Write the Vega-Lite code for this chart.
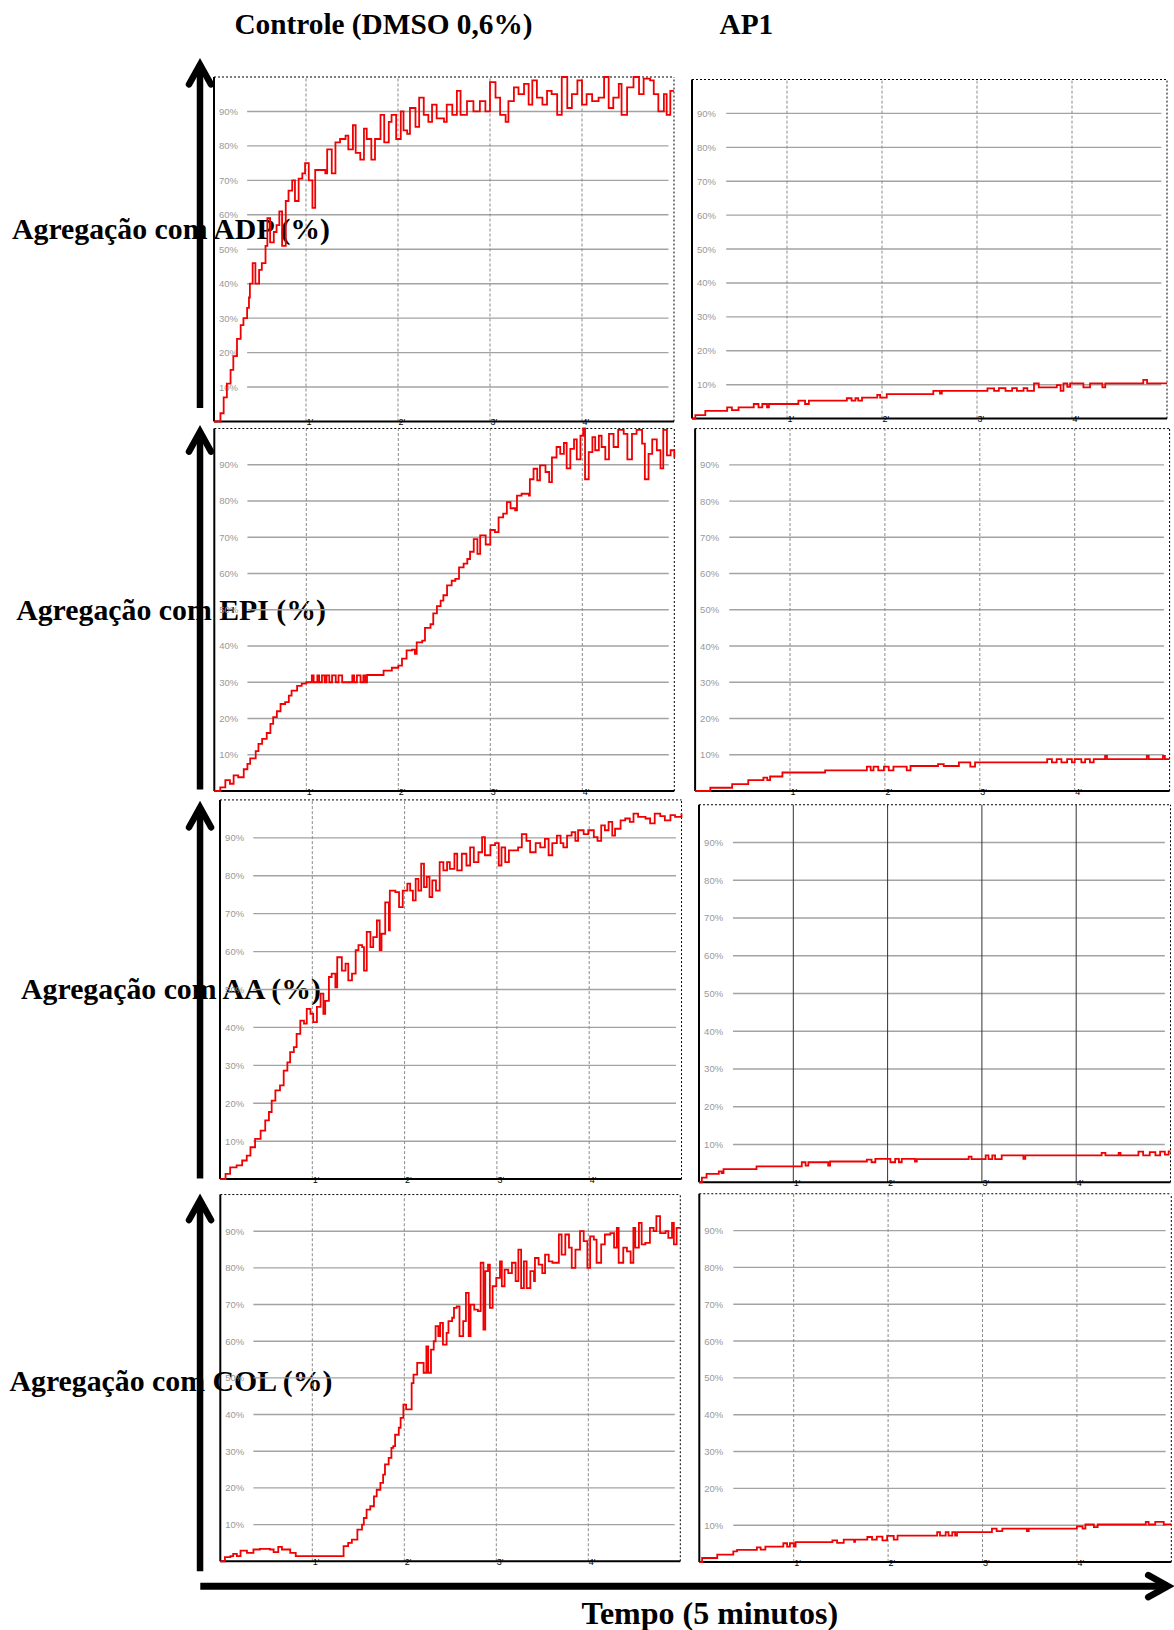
{
"$schema": "https://vega.github.io/schema/vega-lite/v6.json",
"padding": 0,
"background": "white",
"columns": 3,
"align": "none",
"bounds": "flush",
"spacing": 0,
"datasets": {
"pcts": [{"p":10},{"p":20},{"p":30},{"p":40},{"p":50},{"p":60},{"p":70},{"p":80},{"p":90}],
"mins": [{"m":1},{"m":2},{"m":3},{"m":4}],
"adp_c": [{"t":0,"v":0},{"t":0.07,"v":2.4},{"t":0.105,"v":7},{"t":0.14,"v":11},{"t":0.18,"v":15},{"t":0.21,"v":19},{"t":0.25,"v":24},{"t":0.29,"v":28},{"t":0.32,"v":30},{"t":0.36,"v":33},{"t":0.38,"v":36},{"t":0.39,"v":40},{"t":0.42,"v":46},{"t":0.45,"v":40},{"t":0.49,"v":44},{"t":0.52,"v":46},{"t":0.56,"v":51},{"t":0.58,"v":59},{"t":0.61,"v":52},{"t":0.65,"v":55},{"t":0.68,"v":57},{"t":0.71,"v":61},{"t":0.74,"v":51},{"t":0.78,"v":64},{"t":0.81,"v":67},{"t":0.85,"v":70},{"t":0.88,"v":64},{"t":0.92,"v":70.5},{"t":0.96,"v":72},{"t":0.99,"v":75},{"t":1.03,"v":70},{"t":1.07,"v":62},{"t":1.1,"v":73},{"t":1.16,"v":73},{"t":1.21,"v":72},{"t":1.23,"v":79},{"t":1.28,"v":72},{"t":1.32,"v":81},{"t":1.37,"v":82},{"t":1.43,"v":83},{"t":1.46,"v":79},{"t":1.51,"v":86},{"t":1.54,"v":78},{"t":1.59,"v":76},{"t":1.63,"v":85},{"t":1.66,"v":82},{"t":1.71,"v":76},{"t":1.75,"v":82},{"t":1.81,"v":89},{"t":1.85,"v":81},{"t":1.9,"v":87},{"t":1.93,"v":89},{"t":1.98,"v":82},{"t":2.03,"v":90},{"t":2.06,"v":84.5},{"t":2.1,"v":83.5},{"t":2.13,"v":91},{"t":2.19,"v":85.5},{"t":2.23,"v":94},{"t":2.28,"v":89},{"t":2.33,"v":87},{"t":2.37,"v":92},{"t":2.42,"v":88},{"t":2.5,"v":87},{"t":2.53,"v":92},{"t":2.59,"v":89},{"t":2.64,"v":96},{"t":2.68,"v":89},{"t":2.75,"v":93},{"t":2.82,"v":90},{"t":2.89,"v":93},{"t":2.95,"v":90},{"t":3.0,"v":98.5},{"t":3.06,"v":94},{"t":3.11,"v":89},{"t":3.17,"v":87},{"t":3.2,"v":93},{"t":3.26,"v":97},{"t":3.31,"v":95},{"t":3.37,"v":98},{"t":3.42,"v":92},{"t":3.46,"v":99},{"t":3.51,"v":94},{"t":3.57,"v":92},{"t":3.62,"v":96},{"t":3.67,"v":95},{"t":3.73,"v":89},{"t":3.78,"v":100},{"t":3.84,"v":91},{"t":3.89,"v":95},{"t":3.95,"v":99},{"t":4.0,"v":92},{"t":4.05,"v":95},{"t":4.11,"v":93},{"t":4.18,"v":94},{"t":4.24,"v":100},{"t":4.29,"v":91},{"t":4.34,"v":94},{"t":4.4,"v":98},{"t":4.43,"v":89},{"t":4.49,"v":97},{"t":4.56,"v":100},{"t":4.62,"v":95},{"t":4.67,"v":99.5},{"t":4.74,"v":99},{"t":4.78,"v":95},{"t":4.83,"v":90},{"t":4.89,"v":95},{"t":4.92,"v":89},{"t":4.96,"v":96},{"t":5.0,"v":96}],
"adp_a": [{"t":0,"v":0},{"t":0.035,"v":1},{"t":0.14,"v":2.3},{"t":0.37,"v":3.3},{"t":0.42,"v":2.5},{"t":0.49,"v":3.3},{"t":0.65,"v":4.3},{"t":0.7,"v":3.3},{"t":0.74,"v":4.3},{"t":0.79,"v":3.3},{"t":0.81,"v":4.3},{"t":1.12,"v":5.3},{"t":1.19,"v":4.3},{"t":1.23,"v":5.3},{"t":1.63,"v":6},{"t":1.68,"v":5.3},{"t":1.72,"v":6},{"t":1.75,"v":5.3},{"t":1.79,"v":6.2},{"t":1.95,"v":7},{"t":1.98,"v":6.2},{"t":2.05,"v":7.2},{"t":2.54,"v":8.2},{"t":2.61,"v":7.4},{"t":2.63,"v":8.2},{"t":3.11,"v":8.9},{"t":3.18,"v":8.2},{"t":3.23,"v":9},{"t":3.3,"v":8.2},{"t":3.37,"v":9},{"t":3.42,"v":8.2},{"t":3.49,"v":9},{"t":3.53,"v":8.2},{"t":3.6,"v":10.4},{"t":3.65,"v":9.2},{"t":3.84,"v":9.9},{"t":3.88,"v":8.2},{"t":3.91,"v":10.4},{"t":3.95,"v":9.4},{"t":3.98,"v":10.4},{"t":4.12,"v":9.2},{"t":4.19,"v":10.4},{"t":4.32,"v":9.2},{"t":4.35,"v":10.4},{"t":4.75,"v":11.4},{"t":4.79,"v":10.4},{"t":5.0,"v":10.4}],
"epi_c": [{"t":0,"v":0},{"t":0.065,"v":1},{"t":0.12,"v":3},{"t":0.17,"v":2},{"t":0.21,"v":4.3},{"t":0.26,"v":3.8},{"t":0.32,"v":6},{"t":0.36,"v":7.5},{"t":0.39,"v":9},{"t":0.45,"v":11},{"t":0.48,"v":13},{"t":0.52,"v":14.4},{"t":0.57,"v":16},{"t":0.61,"v":18.5},{"t":0.64,"v":20.4},{"t":0.68,"v":22},{"t":0.72,"v":24},{"t":0.77,"v":24.5},{"t":0.81,"v":26.3},{"t":0.84,"v":27.7},{"t":0.9,"v":29},{"t":0.95,"v":29.6},{"t":1.0,"v":30},{"t":1.06,"v":31.9},{"t":1.08,"v":30},{"t":1.12,"v":31.9},{"t":1.14,"v":30},{"t":1.17,"v":31.9},{"t":1.2,"v":30},{"t":1.22,"v":31.9},{"t":1.25,"v":30},{"t":1.28,"v":31.9},{"t":1.32,"v":30},{"t":1.35,"v":31.9},{"t":1.39,"v":30},{"t":1.5,"v":31.9},{"t":1.52,"v":30},{"t":1.55,"v":31.9},{"t":1.59,"v":30},{"t":1.62,"v":31.9},{"t":1.64,"v":30},{"t":1.66,"v":32},{"t":1.84,"v":33.2},{"t":1.93,"v":34},{"t":2.0,"v":34.6},{"t":2.04,"v":36.5},{"t":2.09,"v":38.8},{"t":2.15,"v":39},{"t":2.18,"v":37.8},{"t":2.2,"v":41},{"t":2.26,"v":41.5},{"t":2.29,"v":45},{"t":2.35,"v":46},{"t":2.38,"v":49},{"t":2.42,"v":51},{"t":2.46,"v":52.5},{"t":2.49,"v":54},{"t":2.53,"v":56.7},{"t":2.58,"v":58},{"t":2.62,"v":58.5},{"t":2.66,"v":61.7},{"t":2.71,"v":62.7},{"t":2.75,"v":64},{"t":2.78,"v":66},{"t":2.82,"v":69.5},{"t":2.86,"v":65.4},{"t":2.89,"v":70.5},{"t":2.95,"v":68},{"t":3.0,"v":72},{"t":3.05,"v":71.4},{"t":3.09,"v":75.5},{"t":3.14,"v":76.5},{"t":3.18,"v":79.7},{"t":3.22,"v":78},{"t":3.27,"v":77.4},{"t":3.29,"v":81.5},{"t":3.34,"v":82},{"t":3.42,"v":81.5},{"t":3.43,"v":86},{"t":3.47,"v":88.9},{"t":3.51,"v":85.7},{"t":3.54,"v":89.8},{"t":3.6,"v":88},{"t":3.64,"v":85.2},{"t":3.67,"v":92},{"t":3.72,"v":94.9},{"t":3.76,"v":93},{"t":3.8,"v":96},{"t":3.83,"v":89},{"t":3.87,"v":94.4},{"t":3.91,"v":97},{"t":3.94,"v":91.5},{"t":3.98,"v":98},{"t":4.01,"v":100},{"t":4.03,"v":86},{"t":4.07,"v":93.5},{"t":4.11,"v":97.6},{"t":4.14,"v":94},{"t":4.18,"v":98},{"t":4.21,"v":94.9},{"t":4.25,"v":91.5},{"t":4.29,"v":98.5},{"t":4.34,"v":94.9},{"t":4.39,"v":99.6},{"t":4.45,"v":98.5},{"t":4.49,"v":91.5},{"t":4.54,"v":98.5},{"t":4.59,"v":99.6},{"t":4.65,"v":95.8},{"t":4.68,"v":86},{"t":4.72,"v":93},{"t":4.76,"v":97},{"t":4.81,"v":94},{"t":4.85,"v":89},{"t":4.88,"v":99.6},{"t":4.92,"v":92.6},{"t":4.96,"v":94},{"t":5.0,"v":92}],
"epi_a": [{"t":0,"v":0},{"t":0.16,"v":0.9},{"t":0.39,"v":1.9},{"t":0.56,"v":3},{"t":0.72,"v":3.7},{"t":0.76,"v":3},{"t":0.79,"v":4},{"t":0.92,"v":5.1},{"t":1.37,"v":5.7},{"t":1.81,"v":6.7},{"t":1.85,"v":5.7},{"t":1.88,"v":6.7},{"t":1.93,"v":5.7},{"t":1.99,"v":6.7},{"t":2.04,"v":5.7},{"t":2.09,"v":6.7},{"t":2.23,"v":5.7},{"t":2.27,"v":6.9},{"t":2.56,"v":7.4},{"t":2.62,"v":6.9},{"t":2.78,"v":7.9},{"t":2.9,"v":6.7},{"t":2.95,"v":7.9},{"t":3.71,"v":8.8},{"t":3.76,"v":7.9},{"t":3.81,"v":8.8},{"t":3.86,"v":7.9},{"t":3.92,"v":8.8},{"t":3.97,"v":7.9},{"t":4.0,"v":8.8},{"t":4.07,"v":7.9},{"t":4.11,"v":8.8},{"t":4.16,"v":7.9},{"t":4.2,"v":8.8},{"t":4.32,"v":9.7},{"t":4.34,"v":8.8},{"t":4.76,"v":9.7},{"t":4.78,"v":8.8},{"t":4.93,"v":9.7},{"t":4.95,"v":8.8},{"t":5.0,"v":8.8}],
"aa_c": [{"t":0,"v":0},{"t":0.06,"v":1.4},{"t":0.11,"v":3.1},{"t":0.18,"v":3.6},{"t":0.24,"v":4.9},{"t":0.29,"v":6.2},{"t":0.33,"v":8.4},{"t":0.38,"v":10.6},{"t":0.44,"v":12.8},{"t":0.49,"v":15.5},{"t":0.53,"v":17.7},{"t":0.56,"v":20.7},{"t":0.6,"v":23.4},{"t":0.65,"v":24.7},{"t":0.69,"v":28.6},{"t":0.73,"v":30.8},{"t":0.76,"v":33.5},{"t":0.8,"v":34.8},{"t":0.83,"v":38.3},{"t":0.87,"v":41.8},{"t":0.91,"v":41},{"t":0.94,"v":44.9},{"t":0.98,"v":43.6},{"t":1.01,"v":41.4},{"t":1.05,"v":45.4},{"t":1.09,"v":48.9},{"t":1.12,"v":43.6},{"t":1.14,"v":47},{"t":1.18,"v":53.3},{"t":1.21,"v":54.2},{"t":1.25,"v":50.6},{"t":1.27,"v":58.5},{"t":1.32,"v":55},{"t":1.36,"v":56.8},{"t":1.39,"v":52.4},{"t":1.43,"v":54.2},{"t":1.47,"v":60.4},{"t":1.5,"v":61.7},{"t":1.54,"v":61.2},{"t":1.56,"v":55},{"t":1.59,"v":65.2},{"t":1.63,"v":61.2},{"t":1.66,"v":63.8},{"t":1.7,"v":68.2},{"t":1.73,"v":60.4},{"t":1.75,"v":64.7},{"t":1.79,"v":73},{"t":1.83,"v":65.6},{"t":1.84,"v":76.1},{"t":1.9,"v":75.7},{"t":1.94,"v":71.7},{"t":1.98,"v":76.1},{"t":2.03,"v":77.9},{"t":2.06,"v":76.1},{"t":2.09,"v":73.5},{"t":2.12,"v":79.2},{"t":2.15,"v":76.1},{"t":2.18,"v":83.2},{"t":2.21,"v":77},{"t":2.24,"v":79.7},{"t":2.27,"v":74.4},{"t":2.3,"v":78.8},{"t":2.34,"v":76.1},{"t":2.38,"v":83.6},{"t":2.42,"v":81.4},{"t":2.46,"v":83.6},{"t":2.49,"v":81.8},{"t":2.54,"v":85.8},{"t":2.57,"v":81.4},{"t":2.62,"v":85.8},{"t":2.67,"v":82.7},{"t":2.71,"v":87.5},{"t":2.75,"v":83.6},{"t":2.8,"v":86.2},{"t":2.84,"v":90.2},{"t":2.87,"v":85.4},{"t":2.93,"v":88.1},{"t":2.98,"v":88.6},{"t":3.02,"v":82.7},{"t":3.05,"v":87.5},{"t":3.09,"v":83.6},{"t":3.13,"v":86.7},{"t":3.18,"v":86.7},{"t":3.23,"v":87.5},{"t":3.27,"v":91},{"t":3.32,"v":89.2},{"t":3.36,"v":86.2},{"t":3.42,"v":88.6},{"t":3.47,"v":87.5},{"t":3.52,"v":89.7},{"t":3.56,"v":85.4},{"t":3.6,"v":88.6},{"t":3.65,"v":90.6},{"t":3.69,"v":88.6},{"t":3.72,"v":87.5},{"t":3.76,"v":90.6},{"t":3.81,"v":91.5},{"t":3.85,"v":89.2},{"t":3.88,"v":92},{"t":3.94,"v":91},{"t":3.99,"v":92},{"t":4.05,"v":90.2},{"t":4.09,"v":89.2},{"t":4.13,"v":93.3},{"t":4.17,"v":92},{"t":4.21,"v":94.2},{"t":4.25,"v":90.6},{"t":4.28,"v":92.4},{"t":4.34,"v":94.6},{"t":4.39,"v":95.1},{"t":4.44,"v":94.2},{"t":4.48,"v":96.4},{"t":4.53,"v":95.5},{"t":4.61,"v":95.1},{"t":4.66,"v":93.8},{"t":4.71,"v":96.4},{"t":4.77,"v":95.7},{"t":4.82,"v":94.6},{"t":4.88,"v":96},{"t":4.93,"v":95.5},{"t":5.0,"v":96.4}],
"aa_a": [{"t":0,"v":0},{"t":0.03,"v":1.2},{"t":0.08,"v":2.2},{"t":0.21,"v":2.9},{"t":0.24,"v":2.4},{"t":0.26,"v":3.5},{"t":0.61,"v":4.2},{"t":1.09,"v":5.3},{"t":1.13,"v":4.4},{"t":1.16,"v":5.3},{"t":1.37,"v":4.4},{"t":1.39,"v":5.5},{"t":1.78,"v":6},{"t":1.83,"v":5.3},{"t":1.87,"v":6.2},{"t":2.03,"v":5.3},{"t":2.08,"v":6.2},{"t":2.12,"v":5.3},{"t":2.15,"v":6.2},{"t":2.29,"v":5.5},{"t":2.31,"v":6.1},{"t":2.86,"v":6.8},{"t":2.89,"v":6.1},{"t":3.04,"v":7.1},{"t":3.07,"v":6.1},{"t":3.11,"v":7.1},{"t":3.14,"v":6.1},{"t":3.21,"v":7.1},{"t":3.44,"v":6.2},{"t":3.46,"v":7.1},{"t":4.27,"v":7.8},{"t":4.31,"v":7.1},{"t":4.45,"v":7.8},{"t":4.47,"v":7.1},{"t":4.66,"v":8.1},{"t":4.71,"v":7.1},{"t":4.78,"v":8},{"t":4.84,"v":7.1},{"t":4.89,"v":8.1},{"t":4.94,"v":7.3},{"t":4.98,"v":8.2},{"t":5.0,"v":8.2}],
"col_c": [{"t":0,"v":0},{"t":0.05,"v":1.1},{"t":0.11,"v":1.4},{"t":0.14,"v":2},{"t":0.18,"v":1.4},{"t":0.22,"v":2.9},{"t":0.29,"v":2.3},{"t":0.36,"v":3.2},{"t":0.43,"v":3.4},{"t":0.54,"v":3.2},{"t":0.58,"v":2.5},{"t":0.63,"v":3.9},{"t":0.67,"v":3.2},{"t":0.76,"v":2.3},{"t":0.82,"v":1.4},{"t":1.3,"v":1.4},{"t":1.34,"v":4.1},{"t":1.39,"v":5},{"t":1.43,"v":5.9},{"t":1.49,"v":8.6},{"t":1.54,"v":10},{"t":1.56,"v":11.8},{"t":1.59,"v":14.1},{"t":1.63,"v":15},{"t":1.67,"v":17.7},{"t":1.7,"v":19.5},{"t":1.74,"v":21.4},{"t":1.77,"v":23.6},{"t":1.79,"v":26.4},{"t":1.83,"v":28.2},{"t":1.86,"v":30.9},{"t":1.88,"v":31.4},{"t":1.9,"v":34.5},{"t":1.94,"v":36.4},{"t":1.96,"v":39.1},{"t":1.99,"v":42.7},{"t":2.02,"v":41.4},{"t":2.07,"v":41.4},{"t":2.08,"v":48.6},{"t":2.1,"v":50.9},{"t":2.14,"v":54.1},{"t":2.19,"v":54.1},{"t":2.21,"v":51.4},{"t":2.24,"v":58.6},{"t":2.26,"v":51.4},{"t":2.29,"v":57.7},{"t":2.32,"v":60},{"t":2.34,"v":64.1},{"t":2.37,"v":61.4},{"t":2.39,"v":65},{"t":2.42,"v":59.1},{"t":2.46,"v":62.3},{"t":2.48,"v":65.5},{"t":2.52,"v":66.4},{"t":2.54,"v":69.1},{"t":2.57,"v":69.5},{"t":2.6,"v":61.4},{"t":2.64,"v":65.5},{"t":2.67,"v":73.2},{"t":2.7,"v":61.4},{"t":2.72,"v":70},{"t":2.76,"v":68.6},{"t":2.8,"v":68.2},{"t":2.83,"v":81.4},{"t":2.86,"v":63.2},{"t":2.88,"v":79.1},{"t":2.91,"v":80.9},{"t":2.93,"v":69.1},{"t":2.96,"v":75},{"t":3.0,"v":77.3},{"t":3.04,"v":81.8},{"t":3.06,"v":75},{"t":3.09,"v":79.5},{"t":3.13,"v":78.6},{"t":3.17,"v":81.4},{"t":3.21,"v":76.4},{"t":3.24,"v":85},{"t":3.27,"v":74.5},{"t":3.3,"v":81.8},{"t":3.33,"v":74.5},{"t":3.37,"v":79.1},{"t":3.41,"v":76.4},{"t":3.42,"v":82.7},{"t":3.46,"v":80.9},{"t":3.5,"v":78.6},{"t":3.53,"v":83.6},{"t":3.57,"v":81.8},{"t":3.61,"v":81.4},{"t":3.66,"v":81.4},{"t":3.68,"v":89.1},{"t":3.71,"v":83.6},{"t":3.75,"v":89.1},{"t":3.79,"v":85.5},{"t":3.82,"v":80},{"t":3.86,"v":85},{"t":3.91,"v":90},{"t":3.95,"v":87.3},{"t":3.99,"v":80},{"t":4.02,"v":88.6},{"t":4.06,"v":87.7},{"t":4.09,"v":81.4},{"t":4.14,"v":86.4},{"t":4.18,"v":89.1},{"t":4.24,"v":89.5},{"t":4.28,"v":85.5},{"t":4.31,"v":90.9},{"t":4.33,"v":81.4},{"t":4.38,"v":85.5},{"t":4.42,"v":84.5},{"t":4.46,"v":81.4},{"t":4.49,"v":90.9},{"t":4.51,"v":85.5},{"t":4.55,"v":92.3},{"t":4.58,"v":86.4},{"t":4.62,"v":86.8},{"t":4.67,"v":90.9},{"t":4.71,"v":90},{"t":4.74,"v":94.1},{"t":4.78,"v":89.5},{"t":4.84,"v":90},{"t":4.87,"v":88.2},{"t":4.91,"v":92.3},{"t":4.93,"v":86.4},{"t":4.96,"v":90.9},{"t":5.0,"v":90.9}],
"col_a": [{"t":0,"v":0},{"t":0.03,"v":1.1},{"t":0.19,"v":2},{"t":0.36,"v":2.9},{"t":0.4,"v":3.3},{"t":0.61,"v":4},{"t":0.65,"v":3.4},{"t":0.7,"v":4.2},{"t":0.89,"v":5.1},{"t":0.93,"v":4.2},{"t":0.96,"v":5.1},{"t":1.0,"v":4.2},{"t":1.02,"v":5.4},{"t":1.41,"v":5.9},{"t":1.46,"v":5.2},{"t":1.53,"v":6.1},{"t":1.64,"v":5.5},{"t":1.65,"v":6.1},{"t":1.78,"v":6.8},{"t":1.83,"v":6.1},{"t":1.88,"v":6.9},{"t":1.94,"v":5.9},{"t":1.99,"v":7.1},{"t":2.06,"v":6.1},{"t":2.1,"v":7.2},{"t":2.52,"v":8.1},{"t":2.55,"v":7.2},{"t":2.61,"v":8.1},{"t":2.64,"v":7.2},{"t":2.68,"v":8.1},{"t":2.71,"v":7.2},{"t":2.73,"v":8.1},{"t":3.1,"v":9.1},{"t":3.15,"v":8.4},{"t":3.21,"v":9.1},{"t":3.47,"v":8.4},{"t":3.49,"v":9.1},{"t":4.0,"v":9.7},{"t":4.06,"v":9.1},{"t":4.09,"v":10.2},{"t":4.18,"v":9.5},{"t":4.22,"v":10.2},{"t":4.73,"v":10.9},{"t":4.76,"v":10.2},{"t":4.83,"v":10.9},{"t":4.88,"v":10.9},{"t":4.92,"v":10.2},{"t":5.0,"v":10.2}]
},
"concat": [
{"width": 213.7, "height": 75, "data": {"values": [{}]}, "mark": {"type": "text"}, "encoding": {"text": {"value": ""}}},
{"width": 478, "height": 75, "data": {"values": [{"label": "Controle (DMSO 0,6%)"}]}, "mark": {"type": "text", "font": "Liberation Serif", "fontWeight": "bold", "fontSize": 29.3, "align": "center", "baseline": "alphabetic", "color": "black"},
 "encoding": {"x": {"datum": 1.842, "type": "quantitative", "scale": {"domain": [0, 5.1957], "nice": false, "zero": false}, "axis": null}, "y": {"datum": 112.48, "type": "quantitative", "scale": {"domain": [100.58, 122.35], "nice": false, "zero": false}, "axis": null}, "text": {"field": "label"}}},
{"width": 482.3, "height": 75, "data": {"values": [{"label": "AP1"}]}, "mark": {"type": "text", "font": "Liberation Serif", "fontWeight": "bold", "fontSize": 29.3, "align": "center", "baseline": "alphabetic", "color": "black"},
 "encoding": {"x": {"datum": 0.572, "type": "quantitative", "scale": {"domain": [0, 5.0768], "nice": false, "zero": false}, "axis": null}, "y": {"datum": 113.42, "type": "quantitative", "scale": {"domain": [101.33, 123.44], "nice": false, "zero": false}, "axis": null}, "text": {"field": "label"}}},

{"width": 213.7, "height": 346.5, "layer": [
 {"data": {"values": [{}]}, "mark": {"type": "rule", "color": "black", "strokeWidth": 6.5}, "encoding": {"x": {"datum": -0.149, "type": "quantitative", "scale": {"domain": [-2.3228, 0], "nice": false, "zero": false}, "axis": null}, "y": {"datum": 3.9, "type": "quantitative", "scale": {"domain": [0, 100.58], "nice": false, "zero": false}, "axis": null}, "y2": {"datum": 103.6}}},
 {"data": {"values": [{}]}, "mark": {"type": "point", "shape": "M-1,1.8L0,0L1,1.8", "size": 484, "filled": false, "stroke": "black", "strokeWidth": 6.5, "opacity": 1, "strokeCap": "round", "strokeJoin": "miter"}, "encoding": {"x": {"datum": -0.149, "type": "quantitative"}, "y": {"datum": 103.6, "type": "quantitative"}}},
 {"data": {"values": [{"label": "Agregação com ADP (%)"}]}, "mark": {"type": "text", "font": "Liberation Serif", "fontWeight": "bold", "fontSize": 29.8, "align": "center", "baseline": "alphabetic", "color": "black"}, "encoding": {"x": {"datum": -0.464, "type": "quantitative"}, "y": {"datum": 52.9, "type": "quantitative"}, "text": {"field": "label"}}}
]},
{"width": 478, "height": 346.5, "layer": [
 {"data": {"name": "pcts"}, "mark": {"type": "rule", "color": "#a3a3a3", "strokeWidth": 1.4}, "encoding": {
   "y": {"field": "p", "type": "quantitative", "scale": {"domain": [0, 100.58], "nice": false, "zero": false}, "axis": {"orient": "left", "values": [10,20,30,40,50,60,70,80,90], "labelExpr": "datum.value + '%'", "labelAlign": "left", "labelPadding": -4.5, "labelBaseline": "middle", "labelColor": "#999999", "labelFontSize": 9.5, "labelFont": "Liberation Sans", "domain": false, "ticks": false, "tickSize": 0, "grid": false, "title": null}},
   "x": {"datum": 0.36, "type": "quantitative", "scale": {"domain": [0, 5.1957], "nice": false, "zero": false}, "axis": {"orient": "bottom", "values": [1,2,3,4], "labelExpr": "datum.value + \"'\"", "labelAlign": "left", "labelBaseline": "middle", "labelPadding": 0, "labelColor": "black", "labelFontSize": 9, "labelFont": "Liberation Sans", "domain": false, "ticks": false, "tickSize": 0, "grid": false, "title": null}},
   "x2": {"datum": 4.94}}},
 {"data": {"name": "mins"}, "mark": {"type": "rule", "color": "#8a8a8a", "strokeWidth": 1, "strokeDash": [3, 2]}, "encoding": {"x": {"field": "m", "type": "quantitative"}, "y": {"datum": 0, "type": "quantitative"}, "y2": {"datum": 100}}},
 {"data": {"values": [{}]}, "mark": {"type": "rule", "color": "black", "strokeWidth": 2}, "encoding": {"x": {"datum": 0, "type": "quantitative"}, "y": {"datum": 0, "type": "quantitative"}, "y2": {"datum": 100}}},
 {"data": {"values": [{}]}, "mark": {"type": "rule", "color": "black", "strokeWidth": 2}, "encoding": {"x": {"datum": 0, "type": "quantitative"}, "x2": {"datum": 5}, "y": {"datum": 0, "type": "quantitative"}}},
 {"data": {"values": [{}]}, "mark": {"type": "rule", "color": "black", "strokeWidth": 1, "strokeDash": [2, 2]}, "encoding": {"x": {"datum": 0, "type": "quantitative"}, "x2": {"datum": 5}, "y": {"datum": 100, "type": "quantitative"}}},
 {"data": {"values": [{}]}, "mark": {"type": "rule", "color": "black", "strokeWidth": 1, "strokeDash": [2, 2]}, "encoding": {"x": {"datum": 5, "type": "quantitative"}, "y": {"datum": 0, "type": "quantitative"}, "y2": {"datum": 100}}},
 {"data": {"name": "adp_c"}, "mark": {"type": "line", "interpolate": "step-after", "color": "#f00000", "strokeWidth": 1.8}, "encoding": {"x": {"field": "t", "type": "quantitative"}, "y": {"field": "v", "type": "quantitative"}}}
]},
{"width": 482.3, "height": 346.5, "layer": [
 {"data": {"name": "pcts"}, "mark": {"type": "rule", "color": "#a3a3a3", "strokeWidth": 1.4}, "encoding": {
   "y": {"field": "p", "type": "quantitative", "scale": {"domain": [-0.855, 101.33], "nice": false, "zero": false}, "axis": {"orient": "left", "values": [10,20,30,40,50,60,70,80,90], "labelExpr": "datum.value + '%'", "labelAlign": "left", "labelPadding": -4.5, "labelBaseline": "middle", "labelColor": "#999999", "labelFontSize": 9.5, "labelFont": "Liberation Sans", "domain": false, "ticks": false, "tickSize": 0, "grid": false, "title": null}},
   "x": {"datum": 0.36, "type": "quantitative", "scale": {"domain": [0, 5.0768], "nice": false, "zero": false}, "axis": {"orient": "bottom", "offset": -2.9, "values": [1,2,3,4], "labelExpr": "datum.value + \"'\"", "labelAlign": "left", "labelBaseline": "middle", "labelPadding": 0, "labelColor": "black", "labelFontSize": 9, "labelFont": "Liberation Sans", "domain": false, "ticks": false, "tickSize": 0, "grid": false, "title": null}},
   "x2": {"datum": 4.94}}},
 {"data": {"name": "mins"}, "mark": {"type": "rule", "color": "#8a8a8a", "strokeWidth": 1, "strokeDash": [3, 2]}, "encoding": {"x": {"field": "m", "type": "quantitative"}, "y": {"datum": 0, "type": "quantitative"}, "y2": {"datum": 100}}},
 {"data": {"values": [{}]}, "mark": {"type": "rule", "color": "black", "strokeWidth": 2}, "encoding": {"x": {"datum": 0, "type": "quantitative"}, "y": {"datum": 0, "type": "quantitative"}, "y2": {"datum": 100}}},
 {"data": {"values": [{}]}, "mark": {"type": "rule", "color": "black", "strokeWidth": 2}, "encoding": {"x": {"datum": 0, "type": "quantitative"}, "x2": {"datum": 5}, "y": {"datum": 0, "type": "quantitative"}}},
 {"data": {"values": [{}]}, "mark": {"type": "rule", "color": "black", "strokeWidth": 1, "strokeDash": [2, 2]}, "encoding": {"x": {"datum": 0, "type": "quantitative"}, "x2": {"datum": 5}, "y": {"datum": 100, "type": "quantitative"}}},
 {"data": {"values": [{}]}, "mark": {"type": "rule", "color": "black", "strokeWidth": 1, "strokeDash": [2, 2]}, "encoding": {"x": {"datum": 5, "type": "quantitative"}, "y": {"datum": 0, "type": "quantitative"}, "y2": {"datum": 100}}},
 {"data": {"name": "adp_a"}, "mark": {"type": "line", "interpolate": "step-after", "color": "#f00000", "strokeWidth": 1.8}, "encoding": {"x": {"field": "t", "type": "quantitative"}, "y": {"field": "v", "type": "quantitative"}}}
]},

{"width": 213.7, "height": 369, "layer": [
 {"data": {"values": [{}]}, "mark": {"type": "rule", "color": "black", "strokeWidth": 6.5}, "encoding": {"x": {"datum": -0.152, "type": "quantitative", "scale": {"domain": [-2.3261, -0.00326], "nice": false, "zero": false}, "axis": null}, "y": {"datum": 0.41, "type": "quantitative", "scale": {"domain": [0, 101.79], "nice": false, "zero": false}, "axis": null}, "y2": {"datum": 99.1}}},
 {"data": {"values": [{}]}, "mark": {"type": "point", "shape": "M-1,1.8L0,0L1,1.8", "size": 484, "filled": false, "stroke": "black", "strokeWidth": 6.5, "opacity": 1, "strokeCap": "round", "strokeJoin": "miter"}, "encoding": {"x": {"datum": -0.152, "type": "quantitative"}, "y": {"datum": 99.1, "type": "quantitative"}}},
 {"data": {"values": [{"label": "Agregação com EPI (%)"}]}, "mark": {"type": "text", "font": "Liberation Serif", "fontWeight": "bold", "fontSize": 29.8, "align": "center", "baseline": "alphabetic", "color": "black"}, "encoding": {"x": {"datum": -0.467, "type": "quantitative"}, "y": {"datum": 47.17, "type": "quantitative"}, "text": {"field": "label"}}}
]},
{"width": 478, "height": 369, "layer": [
 {"data": {"name": "pcts"}, "mark": {"type": "rule", "color": "#a3a3a3", "strokeWidth": 1.4}, "encoding": {
   "y": {"field": "p", "type": "quantitative", "scale": {"domain": [0, 101.79], "nice": false, "zero": false}, "axis": {"orient": "left", "values": [10,20,30,40,50,60,70,80,90], "labelExpr": "datum.value + '%'", "labelAlign": "left", "labelPadding": -4.8, "labelBaseline": "middle", "labelColor": "#999999", "labelFontSize": 9.5, "labelFont": "Liberation Sans", "domain": false, "ticks": false, "tickSize": 0, "grid": false, "title": null}},
   "x": {"datum": 0.36, "type": "quantitative", "scale": {"domain": [-0.00326, 5.1924], "nice": false, "zero": false}, "axis": {"orient": "bottom", "values": [1,2,3,4], "labelExpr": "datum.value + \"'\"", "labelAlign": "left", "labelBaseline": "middle", "labelPadding": 0, "labelColor": "black", "labelFontSize": 9, "labelFont": "Liberation Sans", "domain": false, "ticks": false, "tickSize": 0, "grid": false, "title": null}},
   "x2": {"datum": 4.94}}},
 {"data": {"name": "mins"}, "mark": {"type": "rule", "color": "#8a8a8a", "strokeWidth": 1, "strokeDash": [3, 2]}, "encoding": {"x": {"field": "m", "type": "quantitative"}, "y": {"datum": 0, "type": "quantitative"}, "y2": {"datum": 100}}},
 {"data": {"values": [{}]}, "mark": {"type": "rule", "color": "black", "strokeWidth": 2}, "encoding": {"x": {"datum": 0, "type": "quantitative"}, "y": {"datum": 0, "type": "quantitative"}, "y2": {"datum": 100}}},
 {"data": {"values": [{}]}, "mark": {"type": "rule", "color": "black", "strokeWidth": 2}, "encoding": {"x": {"datum": 0, "type": "quantitative"}, "x2": {"datum": 5}, "y": {"datum": 0, "type": "quantitative"}}},
 {"data": {"values": [{}]}, "mark": {"type": "rule", "color": "black", "strokeWidth": 1, "strokeDash": [2, 2]}, "encoding": {"x": {"datum": 0, "type": "quantitative"}, "x2": {"datum": 5}, "y": {"datum": 100, "type": "quantitative"}}},
 {"data": {"values": [{}]}, "mark": {"type": "rule", "color": "black", "strokeWidth": 1, "strokeDash": [2, 2]}, "encoding": {"x": {"datum": 5, "type": "quantitative"}, "y": {"datum": 0, "type": "quantitative"}, "y2": {"datum": 100}}},
 {"data": {"name": "epi_c"}, "mark": {"type": "line", "interpolate": "step-after", "color": "#f00000", "strokeWidth": 1.8}, "encoding": {"x": {"field": "t", "type": "quantitative"}, "y": {"field": "v", "type": "quantitative"}}}
]},
{"width": 482.3, "height": 369, "layer": [
 {"data": {"name": "pcts"}, "mark": {"type": "rule", "color": "#a3a3a3", "strokeWidth": 1.4}, "encoding": {
   "y": {"field": "p", "type": "quantitative", "scale": {"domain": [0, 101.82], "nice": false, "zero": false}, "axis": {"orient": "left", "values": [10,20,30,40,50,60,70,80,90], "labelExpr": "datum.value + '%'", "labelAlign": "left", "labelPadding": -7.6, "labelBaseline": "middle", "labelColor": "#999999", "labelFontSize": 9.5, "labelFont": "Liberation Sans", "domain": false, "ticks": false, "tickSize": 0, "grid": false, "title": null}},
   "x": {"datum": 0.36, "type": "quantitative", "scale": {"domain": [-0.0327, 5.0495], "nice": false, "zero": false}, "axis": {"orient": "bottom", "values": [1,2,3,4], "labelExpr": "datum.value + \"'\"", "labelAlign": "left", "labelBaseline": "middle", "labelPadding": 0, "labelColor": "black", "labelFontSize": 9, "labelFont": "Liberation Sans", "domain": false, "ticks": false, "tickSize": 0, "grid": false, "title": null}},
   "x2": {"datum": 4.94}}},
 {"data": {"name": "mins"}, "mark": {"type": "rule", "color": "#8a8a8a", "strokeWidth": 1, "strokeDash": [3, 2]}, "encoding": {"x": {"field": "m", "type": "quantitative"}, "y": {"datum": 0, "type": "quantitative"}, "y2": {"datum": 100}}},
 {"data": {"values": [{}]}, "mark": {"type": "rule", "color": "black", "strokeWidth": 2}, "encoding": {"x": {"datum": 0, "type": "quantitative"}, "y": {"datum": 0, "type": "quantitative"}, "y2": {"datum": 100}}},
 {"data": {"values": [{}]}, "mark": {"type": "rule", "color": "black", "strokeWidth": 2}, "encoding": {"x": {"datum": 0, "type": "quantitative"}, "x2": {"datum": 5}, "y": {"datum": 0, "type": "quantitative"}}},
 {"data": {"values": [{}]}, "mark": {"type": "rule", "color": "black", "strokeWidth": 1, "strokeDash": [2, 2]}, "encoding": {"x": {"datum": 0, "type": "quantitative"}, "x2": {"datum": 5}, "y": {"datum": 100, "type": "quantitative"}}},
 {"data": {"values": [{}]}, "mark": {"type": "rule", "color": "black", "strokeWidth": 1, "strokeDash": [2, 2]}, "encoding": {"x": {"datum": 5, "type": "quantitative"}, "y": {"datum": 0, "type": "quantitative"}, "y2": {"datum": 100}}},
 {"data": {"name": "epi_a"}, "mark": {"type": "line", "interpolate": "step-after", "color": "#f00000", "strokeWidth": 1.8}, "encoding": {"x": {"field": "t", "type": "quantitative"}, "y": {"field": "v", "type": "quantitative"}}}
]},

{"width": 213.7, "height": 391.25, "layer": [
 {"data": {"values": [{}]}, "mark": {"type": "rule", "color": "black", "strokeWidth": 6.5}, "encoding": {"x": {"datum": -0.213, "type": "quantitative", "scale": {"domain": [-2.3803, -0.065], "nice": false, "zero": false}, "axis": null}, "y": {"datum": 0.16, "type": "quantitative", "scale": {"domain": [-0.831, 102.35], "nice": false, "zero": false}, "axis": null}, "y2": {"datum": 98}}},
 {"data": {"values": [{}]}, "mark": {"type": "point", "shape": "M-1,1.8L0,0L1,1.8", "size": 484, "filled": false, "stroke": "black", "strokeWidth": 6.5, "opacity": 1, "strokeCap": "round", "strokeJoin": "miter"}, "encoding": {"x": {"datum": -0.213, "type": "quantitative"}, "y": {"datum": 98, "type": "quantitative"}}},
 {"data": {"values": [{"label": "Agregação com AA (%)"}]}, "mark": {"type": "text", "font": "Liberation Serif", "fontWeight": "bold", "fontSize": 29.8, "align": "center", "baseline": "alphabetic", "color": "black"}, "encoding": {"x": {"datum": -0.528, "type": "quantitative"}, "y": {"datum": 47.55, "type": "quantitative"}, "text": {"field": "label"}}}
]},
{"width": 478, "height": 391.25, "layer": [
 {"data": {"name": "pcts"}, "mark": {"type": "rule", "color": "#a3a3a3", "strokeWidth": 1.4}, "encoding": {
   "y": {"field": "p", "type": "quantitative", "scale": {"domain": [-0.831, 102.35], "nice": false, "zero": false}, "axis": {"orient": "left", "values": [10,20,30,40,50,60,70,80,90], "labelExpr": "datum.value + '%'", "labelAlign": "left", "labelPadding": -10.6, "labelBaseline": "middle", "labelColor": "#999999", "labelFontSize": 9.5, "labelFont": "Liberation Sans", "domain": false, "ticks": false, "tickSize": 0, "grid": false, "title": null}},
   "x": {"datum": 0.36, "type": "quantitative", "scale": {"domain": [-0.065, 5.1138], "nice": false, "zero": false}, "axis": {"orient": "bottom", "offset": -3.15, "values": [1,2,3,4], "labelExpr": "datum.value + \"'\"", "labelAlign": "left", "labelBaseline": "middle", "labelPadding": 0, "labelColor": "black", "labelFontSize": 9, "labelFont": "Liberation Sans", "domain": false, "ticks": false, "tickSize": 0, "grid": false, "title": null}},
   "x2": {"datum": 4.94}}},
 {"data": {"name": "mins"}, "mark": {"type": "rule", "color": "#8a8a8a", "strokeWidth": 1, "strokeDash": [3, 2]}, "encoding": {"x": {"field": "m", "type": "quantitative"}, "y": {"datum": 0, "type": "quantitative"}, "y2": {"datum": 100}}},
 {"data": {"values": [{}]}, "mark": {"type": "rule", "color": "black", "strokeWidth": 2}, "encoding": {"x": {"datum": 0, "type": "quantitative"}, "y": {"datum": 0, "type": "quantitative"}, "y2": {"datum": 100}}},
 {"data": {"values": [{}]}, "mark": {"type": "rule", "color": "black", "strokeWidth": 2}, "encoding": {"x": {"datum": 0, "type": "quantitative"}, "x2": {"datum": 5}, "y": {"datum": 0, "type": "quantitative"}}},
 {"data": {"values": [{}]}, "mark": {"type": "rule", "color": "black", "strokeWidth": 1, "strokeDash": [2, 2]}, "encoding": {"x": {"datum": 0, "type": "quantitative"}, "x2": {"datum": 5}, "y": {"datum": 100, "type": "quantitative"}}},
 {"data": {"values": [{}]}, "mark": {"type": "rule", "color": "black", "strokeWidth": 1, "strokeDash": [2, 2]}, "encoding": {"x": {"datum": 5, "type": "quantitative"}, "y": {"datum": 0, "type": "quantitative"}, "y2": {"datum": 100}}},
 {"data": {"name": "aa_c"}, "mark": {"type": "line", "interpolate": "step-after", "color": "#f00000", "strokeWidth": 1.8}, "encoding": {"x": {"field": "t", "type": "quantitative"}, "y": {"field": "v", "type": "quantitative"}}}
]},
{"width": 482.3, "height": 391.25, "layer": [
 {"data": {"name": "pcts"}, "mark": {"type": "rule", "color": "#a3a3a3", "strokeWidth": 1.4}, "encoding": {
   "y": {"field": "p", "type": "quantitative", "scale": {"domain": [0, 103.64], "nice": false, "zero": false}, "axis": {"orient": "left", "values": [10,20,30,40,50,60,70,80,90], "labelExpr": "datum.value + '%'", "labelAlign": "left", "labelPadding": -11.6, "labelBaseline": "middle", "labelColor": "#999999", "labelFontSize": 9.5, "labelFont": "Liberation Sans", "domain": false, "ticks": false, "tickSize": 0, "grid": false, "title": null}},
   "x": {"datum": 0.36, "type": "quantitative", "scale": {"domain": [-0.0742, 5.0403], "nice": false, "zero": false}, "axis": {"orient": "bottom", "values": [1,2,3,4], "labelExpr": "datum.value + \"'\"", "labelAlign": "left", "labelBaseline": "middle", "labelPadding": 0, "labelColor": "black", "labelFontSize": 9, "labelFont": "Liberation Sans", "domain": false, "ticks": false, "tickSize": 0, "grid": false, "title": null}},
   "x2": {"datum": 4.94}}},
 {"data": {"name": "mins"}, "mark": {"type": "rule", "color": "#333333", "strokeWidth": 1}, "encoding": {"x": {"field": "m", "type": "quantitative"}, "y": {"datum": 0, "type": "quantitative"}, "y2": {"datum": 100}}},
 {"data": {"values": [{}]}, "mark": {"type": "rule", "color": "black", "strokeWidth": 2}, "encoding": {"x": {"datum": 0, "type": "quantitative"}, "y": {"datum": 0, "type": "quantitative"}, "y2": {"datum": 100}}},
 {"data": {"values": [{}]}, "mark": {"type": "rule", "color": "black", "strokeWidth": 2}, "encoding": {"x": {"datum": 0, "type": "quantitative"}, "x2": {"datum": 5}, "y": {"datum": 0, "type": "quantitative"}}},
 {"data": {"values": [{}]}, "mark": {"type": "rule", "color": "black", "strokeWidth": 1, "strokeDash": [2, 2]}, "encoding": {"x": {"datum": 0, "type": "quantitative"}, "x2": {"datum": 5}, "y": {"datum": 100, "type": "quantitative"}}},
 {"data": {"values": [{}]}, "mark": {"type": "rule", "color": "black", "strokeWidth": 1, "strokeDash": [2, 2]}, "encoding": {"x": {"datum": 5, "type": "quantitative"}, "y": {"datum": 0, "type": "quantitative"}, "y2": {"datum": 100}}},
 {"data": {"name": "aa_a"}, "mark": {"type": "line", "interpolate": "step-after", "color": "#f00000", "strokeWidth": 1.8}, "encoding": {"x": {"field": "t", "type": "quantitative"}, "y": {"field": "v", "type": "quantitative"}}}
]},

{"width": 213.7, "height": 379.05, "layer": [
 {"data": {"values": [{}]}, "mark": {"type": "rule", "color": "black", "strokeWidth": 6.5}, "encoding": {"x": {"datum": -0.217, "type": "quantitative", "scale": {"domain": [-2.3913, -0.0685], "nice": false, "zero": false}, "axis": null}, "y": {"datum": -2.73, "type": "quantitative", "scale": {"domain": [-0.218, 103.15], "nice": false, "zero": false}, "axis": null}, "y2": {"datum": 98.45}}},
 {"data": {"values": [{}]}, "mark": {"type": "point", "shape": "M-1,1.8L0,0L1,1.8", "size": 484, "filled": false, "stroke": "black", "strokeWidth": 6.5, "opacity": 1, "strokeCap": "round", "strokeJoin": "miter"}, "encoding": {"x": {"datum": -0.217, "type": "quantitative"}, "y": {"datum": 98.45, "type": "quantitative"}}},
 {"data": {"values": [{"label": "Agregação com COL (%)"}]}, "mark": {"type": "text", "font": "Liberation Serif", "fontWeight": "bold", "fontSize": 29.8, "align": "center", "baseline": "alphabetic", "color": "black"}, "encoding": {"x": {"datum": -0.533, "type": "quantitative"}, "y": {"datum": 46.55, "type": "quantitative"}, "text": {"field": "label"}}}
]},
{"width": 478, "height": 379.05, "layer": [
 {"data": {"name": "pcts"}, "mark": {"type": "rule", "color": "#a3a3a3", "strokeWidth": 1.4}, "encoding": {
   "y": {"field": "p", "type": "quantitative", "scale": {"domain": [-0.218, 103.15], "nice": false, "zero": false}, "axis": {"orient": "left", "values": [10,20,30,40,50,60,70,80,90], "labelExpr": "datum.value + '%'", "labelAlign": "left", "labelPadding": -10.8, "labelBaseline": "middle", "labelColor": "#999999", "labelFontSize": 9.5, "labelFont": "Liberation Sans", "domain": false, "ticks": false, "tickSize": 0, "grid": false, "title": null}},
   "x": {"datum": 0.36, "type": "quantitative", "scale": {"domain": [-0.0685, 5.1272], "nice": false, "zero": false}, "axis": {"orient": "bottom", "offset": -0.8, "values": [1,2,3,4], "labelExpr": "datum.value + \"'\"", "labelAlign": "left", "labelBaseline": "middle", "labelPadding": 0, "labelColor": "black", "labelFontSize": 9, "labelFont": "Liberation Sans", "domain": false, "ticks": false, "tickSize": 0, "grid": false, "title": null}},
   "x2": {"datum": 4.94}}},
 {"data": {"name": "mins"}, "mark": {"type": "rule", "color": "#8a8a8a", "strokeWidth": 1, "strokeDash": [3, 2]}, "encoding": {"x": {"field": "m", "type": "quantitative"}, "y": {"datum": 0, "type": "quantitative"}, "y2": {"datum": 100}}},
 {"data": {"values": [{}]}, "mark": {"type": "rule", "color": "black", "strokeWidth": 2}, "encoding": {"x": {"datum": 0, "type": "quantitative"}, "y": {"datum": 0, "type": "quantitative"}, "y2": {"datum": 100}}},
 {"data": {"values": [{}]}, "mark": {"type": "rule", "color": "black", "strokeWidth": 2}, "encoding": {"x": {"datum": 0, "type": "quantitative"}, "x2": {"datum": 5}, "y": {"datum": 0, "type": "quantitative"}}},
 {"data": {"values": [{}]}, "mark": {"type": "rule", "color": "black", "strokeWidth": 1, "strokeDash": [2, 2]}, "encoding": {"x": {"datum": 0, "type": "quantitative"}, "x2": {"datum": 5}, "y": {"datum": 100, "type": "quantitative"}}},
 {"data": {"values": [{}]}, "mark": {"type": "rule", "color": "black", "strokeWidth": 1, "strokeDash": [2, 2]}, "encoding": {"x": {"datum": 5, "type": "quantitative"}, "y": {"datum": 0, "type": "quantitative"}, "y2": {"datum": 100}}},
 {"data": {"name": "col_c"}, "mark": {"type": "line", "interpolate": "step-after", "color": "#f00000", "strokeWidth": 1.8}, "encoding": {"x": {"field": "t", "type": "quantitative"}, "y": {"field": "v", "type": "quantitative"}}}
]},
{"width": 482.3, "height": 379.05, "layer": [
 {"data": {"name": "pcts"}, "mark": {"type": "rule", "color": "#a3a3a3", "strokeWidth": 1.4}, "encoding": {
   "y": {"field": "p", "type": "quantitative", "scale": {"domain": [0, 102.92], "nice": false, "zero": false}, "axis": {"orient": "left", "values": [10,20,30,40,50,60,70,80,90], "labelExpr": "datum.value + '%'", "labelAlign": "left", "labelPadding": -11.8, "labelBaseline": "middle", "labelColor": "#999999", "labelFontSize": 9.5, "labelFont": "Liberation Sans", "domain": false, "ticks": false, "tickSize": 0, "grid": false, "title": null}},
   "x": {"datum": 0.36, "type": "quantitative", "scale": {"domain": [-0.0773, 5.0318], "nice": false, "zero": false}, "axis": {"orient": "bottom", "values": [1,2,3,4], "labelExpr": "datum.value + \"'\"", "labelAlign": "left", "labelBaseline": "middle", "labelPadding": 0, "labelColor": "black", "labelFontSize": 9, "labelFont": "Liberation Sans", "domain": false, "ticks": false, "tickSize": 0, "grid": false, "title": null}},
   "x2": {"datum": 4.94}}},
 {"data": {"name": "mins"}, "mark": {"type": "rule", "color": "#8a8a8a", "strokeWidth": 1, "strokeDash": [3, 2]}, "encoding": {"x": {"field": "m", "type": "quantitative"}, "y": {"datum": 0, "type": "quantitative"}, "y2": {"datum": 100}}},
 {"data": {"values": [{}]}, "mark": {"type": "rule", "color": "black", "strokeWidth": 2}, "encoding": {"x": {"datum": 0, "type": "quantitative"}, "y": {"datum": 0, "type": "quantitative"}, "y2": {"datum": 100}}},
 {"data": {"values": [{}]}, "mark": {"type": "rule", "color": "black", "strokeWidth": 2}, "encoding": {"x": {"datum": 0, "type": "quantitative"}, "x2": {"datum": 5}, "y": {"datum": 0, "type": "quantitative"}}},
 {"data": {"values": [{}]}, "mark": {"type": "rule", "color": "black", "strokeWidth": 1, "strokeDash": [2, 2]}, "encoding": {"x": {"datum": 0, "type": "quantitative"}, "x2": {"datum": 5}, "y": {"datum": 100, "type": "quantitative"}}},
 {"data": {"values": [{}]}, "mark": {"type": "rule", "color": "black", "strokeWidth": 1, "strokeDash": [2, 2]}, "encoding": {"x": {"datum": 5, "type": "quantitative"}, "y": {"datum": 0, "type": "quantitative"}, "y2": {"datum": 100}}},
 {"data": {"name": "col_a"}, "mark": {"type": "line", "interpolate": "step-after", "color": "#f00000", "strokeWidth": 1.8}, "encoding": {"x": {"field": "t", "type": "quantitative"}, "y": {"field": "v", "type": "quantitative"}}}
]},

{"width": 213.7, "height": 69.2, "data": {"values": [{}]}, "mark": {"type": "text"}, "encoding": {"text": {"value": ""}}},
{"width": 478, "height": 69.2, "layer": [
 {"data": {"values": [{}]}, "mark": {"type": "rule", "color": "black", "strokeWidth": 7}, "encoding": {"x": {"datum": -0.149, "type": "quantitative", "scale": {"domain": [0, 5.1957], "nice": false, "zero": false}, "axis": null}, "x2": {"datum": 10.37}, "y": {"datum": -6.545, "type": "quantitative", "scale": {"domain": [-19.09, -0.218], "nice": false, "zero": false}, "axis": null}}},
 {"data": {"values": [{}]}, "mark": {"type": "point", "shape": "M-1.8,-1L0,0L-1.8,1", "size": 484, "filled": false, "stroke": "black", "strokeWidth": 6.5, "opacity": 1, "strokeCap": "round", "strokeJoin": "miter"}, "encoding": {"x": {"datum": 10.37, "type": "quantitative"}, "y": {"datum": -6.545, "type": "quantitative"}}},
 {"data": {"values": [{"label": "Tempo (5 minutos)"}]}, "mark": {"type": "text", "font": "Liberation Serif", "fontWeight": "bold", "fontSize": 32, "align": "center", "baseline": "alphabetic", "color": "black"}, "encoding": {"x": {"datum": 5.389, "type": "quantitative"}, "y": {"datum": -16.77, "type": "quantitative"}, "text": {"field": "label"}}}
]},
{"width": 482.3, "height": 69.2, "data": {"values": [{}]}, "mark": {"type": "text"}, "encoding": {"text": {"value": ""}}}
],
"config": {"view": {"stroke": null}, "concat": {"spacing": 0}}
}
